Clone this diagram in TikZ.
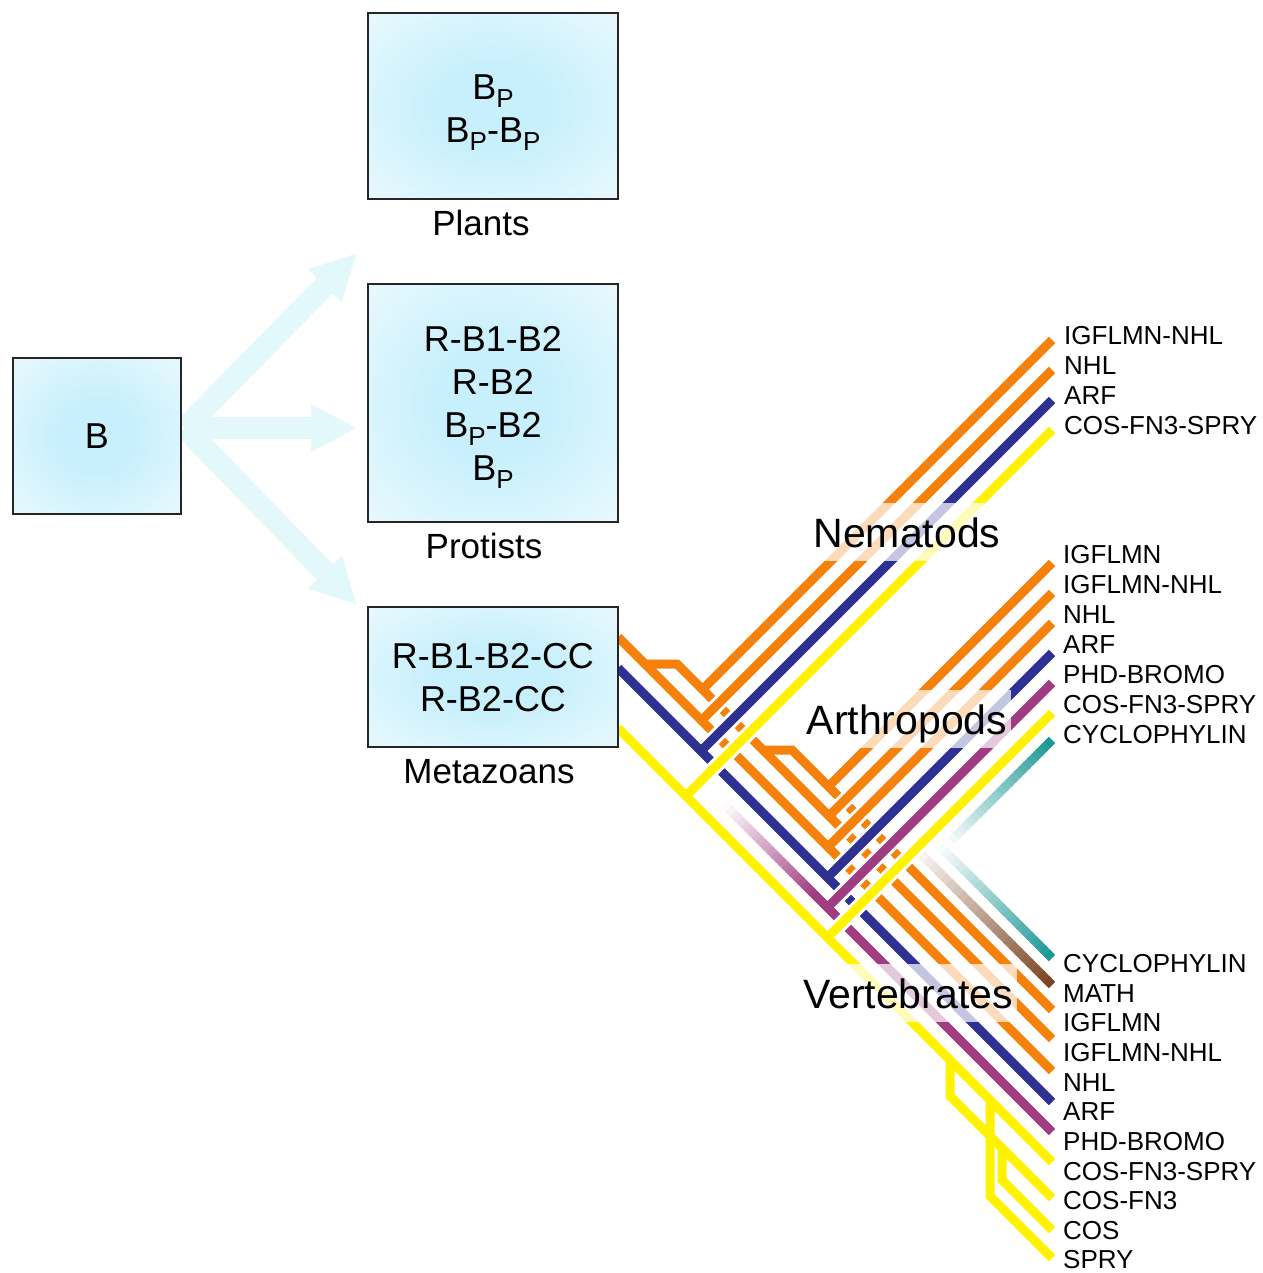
\documentclass[tikz,border=0pt]{standalone}
\usepackage{fontspec}
\setmainfont{Liberation Sans}
\usetikzlibrary{arrows.meta,calc}
\definecolor{orng}{RGB}{245,128,10}
\definecolor{blu}{RGB}{46,49,146}
\definecolor{yel}{RGB}{255,242,0}
\definecolor{pur}{RGB}{160,60,130}
\definecolor{tea}{RGB}{24,150,148}
\definecolor{brn}{RGB}{120,66,30}
\definecolor{arrc}{RGB}{227,248,250}
\definecolor{boxin}{RGB}{200,240,252}
\definecolor{boxout}{RGB}{246,252,254}
\pgfdeclareradialshading{boxshade}{\pgfpoint{0bp}{0bp}}{color(0bp)=(boxin); color(12bp)=(boxin); color(45bp)=(boxout); color(71bp)=(boxout)}
\newcommand{\subP}{\raisebox{-8pt}[0pt][0pt]{\fontsize{26}{26}\selectfont P}}
\newcommand{\fadeln}[3]{%
  \foreach \k in {1,...,24}{%
    \pgfmathsetmacro{\fdA}{(\k-1)/24}%
    \pgfmathsetmacro{\fdB}{min(1,(\k+0.3)/24)}%
    \pgfmathsetmacro{\fdC}{100*(\k-0.5)/24}%
    \draw[line width=9pt, #1!\fdC!white] ($(#2)!\fdA!(#3)$) -- ($(#2)!\fdB!(#3)$);
  }}
\newcommand{\brnch}[3]{%
  \draw[white, line width=15pt] ($(#2)!7pt!(#3)$) -- (#3);
  \draw[#1, line width=9pt] (#2) -- (#3);}
\begin{document}
\begin{tikzpicture}[x=1pt,y=-1pt,
  boxs/.style={draw=black!85, line width=1.3pt, shade, shading=boxshade, inner sep=0pt},
  boxt/.style={align=center, font=\fontsize{36}{43}\selectfont, inner sep=0pt},
  capt/.style={font=\fontsize{35}{35}\selectfont, inner sep=0pt},
  lab/.style={anchor=base west, font=\fontsize{26}{26}\selectfont, inner sep=0pt},
  grp/.style={fill=white, fill opacity=0.72, text opacity=1, font=\fontsize{41}{41}\selectfont, inner xsep=4pt, inner ysep=0pt, minimum height=58pt, text height=30pt, text depth=0pt},
  ln/.style={line width=9pt},
  fanarrow/.style={line width=22pt, arrc, -{Triangle[length=46pt,width=44pt]}},
]
\useasboundingbox (0,0) rectangle (1262,1273);
\fill[white] (0,0) rectangle (1262,1273);

% ---- fan of arrows
\coordinate (fanO) at (185,428);
\coordinate (tipU) at (357,253);
\coordinate (tipM) at (357,428);
\coordinate (tipD) at (357,605);
\draw[fanarrow] (fanO) -- (tipU);
\draw[fanarrow] (fanO) -- (tipM);
\draw[fanarrow] (fanO) -- (tipD);

% ---- stems (down-right)
\coordinate (C0) at (618,637);  \coordinate (C1) at (1052,1071);
\coordinate (Bbar0) at (645,664); \coordinate (B0) at (677,664); \coordinate (B1) at (1052,1039);
\coordinate (Abar0) at (763,750); \coordinate (A0) at (792,750); \coordinate (A1) at (1052,1010);
\coordinate (U0) at (618,668);  \coordinate (U1) at (1052,1102);
\coordinate (P0) at (725,805);  \coordinate (Pm) at (815,895); \coordinate (P1) at (1052,1132);
\coordinate (Y0) at (618,728);  \coordinate (Y1) at (1052,1162);
\coordinate (W0) at (915,848);  \coordinate (W1) at (1052,985);
\coordinate (T0) at (940,846);  \coordinate (T1) at (1052,958);
\coordinate (y1a) at (950,1060); \coordinate (y1b) at (950,1096); \coordinate (y1e) at (1052,1198);
\coordinate (y2a) at (990,1100); \coordinate (y2b) at (990,1196); \coordinate (y2e) at (1052,1258);
\coordinate (y3a) at (1002,1148); \coordinate (y3b) at (1002,1180); \coordinate (y3e) at (1052,1230);

\draw[orng, ln] (C0) -- (C1);
\draw[orng, ln] (Bbar0) -- (B0) -- (B1);
\draw[orng, ln] (Abar0) -- (A0) -- (A1);
\draw[blu, ln] (U0) -- (U1);
\fadeln{pur}{P0}{Pm}
\draw[pur, ln] ($(Pm)!1pt!(P0)$) -- (P1);
\draw[yel, ln] (Y0) -- (Y1);
\draw[yel, ln] (y1a) -- (y1b) -- (y1e);
\draw[yel, ln] (y2a) -- (y2b) -- (y2e);
\draw[yel, ln] (y3a) -- (y3b) -- (y3e);
\fadeln{brn}{W0}{W1}
\fadeln{tea}{T0}{T1}

% ---- branches (up-right)
\coordinate (n1s) at (702.5,689.5); \coordinate (n1e) at (1052,340);
\coordinate (n2s) at (701.5,720.5); \coordinate (n2e) at (1052,370);
\coordinate (n3s) at (701,751);     \coordinate (n3e) at (1052,400);
\coordinate (n4s) at (686,796);     \coordinate (n4e) at (1052,430);
\coordinate (a1s) at (828.5,786.5); \coordinate (a1e) at (1052,563);
\coordinate (a2s) at (829,816);     \coordinate (a2e) at (1052,593);
\coordinate (a3s) at (828,847);     \coordinate (a3e) at (1052,623);
\coordinate (a4s) at (827.5,877.5); \coordinate (a4e) at (1052,653);
\coordinate (a5s) at (827.5,907.5); \coordinate (a5e) at (1052,683);
\coordinate (a6s) at (827.5,937.5); \coordinate (a6e) at (1052,713);
\coordinate (a7s) at (947,845);     \coordinate (a7e) at (1052,740);

\brnch{orng}{n1s}{n1e}
\brnch{orng}{n2s}{n2e}
\brnch{blu}{n3s}{n3e}
\brnch{yel}{n4s}{n4e}
\brnch{orng}{a1s}{a1e}
\brnch{orng}{a2s}{a2e}
\brnch{orng}{a3s}{a3e}
\brnch{blu}{a4s}{a4e}
\brnch{pur}{a5s}{a5e}
\brnch{yel}{a6s}{a6e}
\fadeln{tea}{a7s}{a7e}

% ---- boxes
\node[boxs, minimum width=168pt, minimum height=156pt] (bbox) at (97,436) {};
\node[boxs, minimum width=250pt, minimum height=186pt] (plants) at (493,106) {};
\node[boxs, minimum width=250pt, minimum height=238pt] (protists) at (493,403) {};
\node[boxs, minimum width=250pt, minimum height=140pt] (metazoa) at (493,677) {};
\node[boxt] (btxt) at (bbox.center) {B};
\node[boxt] (plantstxt) at (493,109) {B\subP\\B\subP-B\subP};
\node[boxt] (protiststxt) at (493,403.5) {R-B1-B2\\R-B2\\B\subP-B2\\B\subP};
\node[boxt] (metazoatxt) at (493,677.5) {R-B1-B2-CC\\R-B2-CC};
\node[capt] (plantscap) at (481,223) {Plants};
\node[capt] (protistscap) at (484,546) {Protists};
\node[capt] (metazoacap) at (489,772) {Metazoans};

% ---- group labels
\node[grp] (nem) at (907,532) {Nematods};
\node[grp] (arth) at (907,719) {Arthropods};
\node[grp] (vert) at (908,993) {Vertebrates};

% ---- leaf labels
\node[lab] (ln1) at (1064,344.3) {IGFLMN-NHL};
\node[lab] (ln2) at (1064,374.3) {NHL};
\node[lab] (ln3) at (1064,404.3) {ARF};
\node[lab] (ln4) at (1064,434.3) {COS-FN3-SPRY};
\node[lab] (la1) at (1063,563.3) {IGFLMN};
\node[lab] (la2) at (1063,593.3) {IGFLMN-NHL};
\node[lab] (la3) at (1063,623.3) {NHL};
\node[lab] (la4) at (1063,653.3) {ARF};
\node[lab] (la5) at (1063,683.3) {PHD-BROMO};
\node[lab] (la6) at (1063,713.3) {COS-FN3-SPRY};
\node[lab] (la7) at (1063,743.3) {CYCLOPHYLIN};
\node[lab] (lv1) at (1063,972) {CYCLOPHYLIN};
\node[lab] (lv2) at (1063,1002) {MATH};
\node[lab] (lv3) at (1063,1031.5) {IGFLMN};
\node[lab] (lv4) at (1063,1061.5) {IGFLMN-NHL};
\node[lab] (lv5) at (1063,1091) {NHL};
\node[lab] (lv6) at (1063,1120.5) {ARF};
\node[lab] (lv7) at (1063,1150.5) {PHD-BROMO};
\node[lab] (lv8) at (1063,1180) {COS-FN3-SPRY};
\node[lab] (lv9) at (1063,1209.5) {COS-FN3};
\node[lab] (lv10) at (1063,1239) {COS};
\node[lab] (lv11) at (1063,1268.5) {SPRY};
\end{tikzpicture}
\end{document}
